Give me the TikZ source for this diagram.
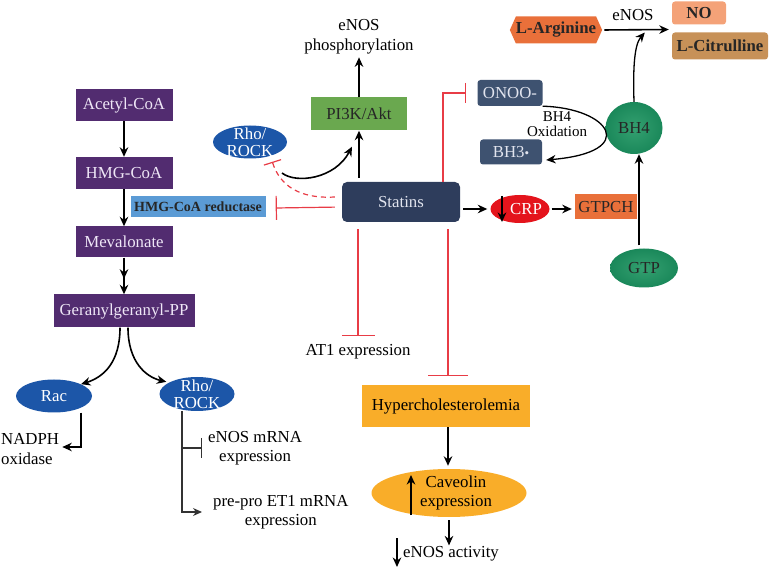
\documentclass[tikz,border=0pt]{standalone}
\usepackage{fontspec}
\setmainfont{Liberation Serif}
\usetikzlibrary{arrows.meta,shapes.geometric,shapes.symbols,calc}
\definecolor{purp}{RGB}{82,44,112}
\definecolor{lav}{RGB}{238,230,246}
\definecolor{rblue}{RGB}{28,86,168}
\definecolor{redblue}{RGB}{91,155,213}
\definecolor{pgreen}{RGB}{106,168,79}
\definecolor{navy}{RGB}{46,61,92}
\definecolor{slate}{RGB}{62,82,112}
\definecolor{lightt}{RGB}{225,228,238}
\definecolor{crpred}{RGB}{228,20,28}
\definecolor{orng}{RGB}{233,112,58}
\definecolor{salmon}{RGB}{244,162,120}
\definecolor{tanc}{RGB}{199,145,88}
\definecolor{ggreen}{RGB}{26,136,90}
\definecolor{ggreenin}{RGB}{52,160,112}
\definecolor{orangey}{RGB}{249,173,41}
\definecolor{inhred}{RGB}{232,60,70}
\definecolor{gline}{RGB}{50,50,50}
\newcommand\fs{\fontsize{16.8}{19.5}\selectfont}
\newcommand\fsr{\fontsize{16.8}{17}\selectfont}
\begin{document}
\begin{tikzpicture}[x=1pt,y=-1pt,
  font=\fs,
  every node/.style={inner sep=0pt},
  pbox/.style={rectangle, fill=purp, text=lav, minimum width=97pt, minimum height=32pt},
  ell/.style={ellipse, inner sep=0pt},
  arr/.style={-{Stealth[length=9.5pt,width=8.5pt]}, line width=1.6pt, draw=black},
  arrtwo/.style={-{Stealth[length=9.5pt,width=8.5pt,sep=6pt]Stealth[length=9.5pt,width=8.5pt]}, line width=1.6pt, draw=black},
  inh/.style={draw=inhred, line width=1.2pt, -{Bar[width=#1,line width=1.2pt]}},
  inh/.default=24pt,
  gbar/.style={draw=gline, line width=1.3pt, -{Bar[width=#1,line width=1.3pt]}},
  garr/.style={draw=gline, line width=1.3pt, -{Stealth[length=9pt,width=8pt]}},
  gell/.style={ellipse, inner sep=0pt, shading=radial, inner color=ggreenin, outer color=ggreen}
]
\useasboundingbox (0,0) rectangle (769,569);

% ---- left column
\node[pbox] (acetyl) at (124,105) {Acetyl-CoA};
\node[pbox] (hmg) at (124,173) {HMG-CoA};
\node[pbox, minimum height=31pt] (meval) at (124,242) {Mevalonate};
\node[pbox, minimum width=141pt, minimum height=33pt] (ger) at (124,311) {Geranylgeranyl-PP};
\node[rectangle, fill=redblue, text=black!85, minimum width=135pt, minimum height=21pt,
      font=\bfseries\fontsize{14}{16}\selectfont] (red) at (198,207) {HMG-CoA reductase};

\draw[arr] (acetyl) -- (hmg);
\draw[arr] (hmg) -- (meval);
\draw[arrtwo] (meval) -- (ger);

\node[ell, fill=rblue, minimum width=76pt, minimum height=33pt] (rac) at (54,396) {};
\node[text=white] (ract) at (rac.center) {Rac};
\node[ell, fill=rblue, minimum width=75pt, minimum height=34pt] (rho2) at (197,394) {};
\node[text=white, align=center, font=\fsr] (rho2t) at (rho2.center) {Rho/\\ROCK};

\draw[arr] ([xshift=-4pt]ger.south) .. controls (120,362) and (104,377) .. (rac.north east);
\draw[arr] ([xshift=4pt]ger.south) .. controls (128,362) and (146,377) .. ([xshift=-4pt]rho2.north west);

\node[anchor=west, align=left] (nadph) at (1,449) {NADPH\\oxidase};
\draw[arr] ([xshift=27pt]rac.south) |- ([xshift=3pt,yshift=2pt]nadph.east);

\node[anchor=west, align=center] (enosm) at (208,448) {eNOS mRNA\\expression};
\node[anchor=west, align=center] (preet) at (213,512) {pre-pro ET1 mRNA\\expression};
\coordinate (rb) at ([xshift=-15pt]rho2.south);
\draw[garr] (rb) |- ([xshift=-11pt]preet.west);
\draw[gbar=20pt] (rb |- enosm.west) -- ([xshift=-6pt]enosm.west);

% ---- middle
\node[align=center] (phos) at (359,37) {eNOS\\phosphorylation};
\node[rectangle, fill=pgreen, text=black!85, minimum width=96pt, minimum height=33pt] (pi3k) at (359,114) {PI3K/Akt};
\node[rectangle, rounded corners=5pt, fill=navy, text=lightt, minimum width=118pt, minimum height=40pt] (statins) at (401,202) {Statins};
\node[ell, fill=rblue, minimum width=74pt, minimum height=33pt] (rho1) at (250,142) {};
\node[text=white, align=center, font=\fsr] (rho1t) at (rho1.center) {Rho/\\ROCK};

\draw[arr] (pi3k.north) -- ([yshift=-3pt]phos.south);
\draw[arr, line width=2pt, shorten <=4pt] (statins.north -| pi3k.south) -- (pi3k.south);
\coordinate (rhoarr) at (282,173);
\draw[arr] (rhoarr) .. controls (296,184) and (335,179) .. ([xshift=-7pt,yshift=-16pt]pi3k.south);
\draw[inh=18pt, dash pattern=on 5pt off 4pt] ([xshift=-7pt,yshift=5pt]statins.west) .. controls (300,199) and (280,186) .. ([xshift=-4pt,yshift=-8pt]rho1.south east);
\coordinate (s1) at (statins.west |- red.east);
\draw[inh=24pt, shorten <=7pt] (s1) -- ([xshift=10pt,yshift=-1pt]red.east);

\node[rectangle, rounded corners=3pt, fill=slate, text=lightt, minimum width=65pt, minimum height=26pt] (onoo) at (510,93) {ONOO-};
\node[rectangle, rounded corners=3pt, fill=slate, text=lightt, minimum width=62pt, minimum height=25pt] (bh3) at (511,152) {BH3{\fontsize{13}{13}\selectfont •}};
\draw[inh=20pt] ([xshift=42pt]statins.north) |- ([xshift=-11pt]onoo.west);

\node (at1) at (358,352) {AT1 expression};
\draw[inh=33pt, shorten <=7pt] ([xshift=-43pt]statins.south) -- ([yshift=8pt]at1.north);

\node[rectangle, fill=orangey, minimum width=168pt, minimum height=42pt] (hyper) at (446,406) {Hypercholesterolemia};
\coordinate (h1) at ([xshift=47pt]statins.south);
\coordinate (h2) at (h1 |- hyper.north);
\draw[inh=40pt, shorten <=7pt, shorten >=9pt] (h1) -- (h2);

\node[ell, fill=orangey, minimum width=155pt, minimum height=48pt] (cav) at (449,493) {};
\node[align=center] (cavt) at (456,493) {Caveolin\\expression};
\draw[arr] ([xshift=2pt]hyper.south) -- ([xshift=2pt,yshift=3pt]hyper.south |- cav.north);
\draw[arr, line width=1.7pt] ([xshift=-38pt,yshift=-22pt]cav.center) -- ([xshift=-38pt,yshift=18pt]cav.center);

\node (eact) at (451,554) {eNOS activity};
\draw[arr] ([yshift=-3pt]cav.south) -- ([yshift=1pt]cav.south |- eact.north);
\draw[arr] ([xshift=-6pt,yshift=16pt]eact.west) -- ([xshift=-6pt,yshift=-13pt]eact.west);

% ---- right
\node[ell, fill=crpred, minimum width=59pt, minimum height=28pt] (crp) at (520,209) {};
\node[text=white] (crpt) at (526,209) {CRP};
\draw[arr, line width=1.7pt] ([xshift=-18pt,yshift=13pt]crp.center) -- ([xshift=-18pt,yshift=-13pt]crp.center);
\draw[arr, shorten <=3pt, shorten >=3pt] (statins.east |- crp.west) -- (crp.west);
\node[rectangle, fill=orng, text=black!85, minimum width=62pt, minimum height=25pt] (gtpch) at (606,207) {GTPCH};
\draw[arr, shorten <=2pt, shorten >=3pt] (crp.east) -- (crp.east -| gtpch.west);

\node[gell, minimum width=68pt, minimum height=39pt, text=black!85] (gtp) at (644,268) {GTP};
\node[gell, minimum width=57pt, minimum height=52pt, text=black!85] (bh4) at (634,128) {BH4};
\draw[arr, shorten <=3pt] ([xshift=-5pt]gtp.north) -- ([xshift=5pt]bh4.south);

\node[align=center, font=\fontsize{15}{15}\selectfont] (oxid) at (557,124) {BH4\\Oxidation};
\draw[arr, line width=1.3pt] (onoo.south east) .. controls (610,108) and (640,152) .. ([xshift=4pt,yshift=-8pt]bh3.east);

\node[signal, signal to=east and west, signal pointer angle=132, fill=orng, text=black!85,
      minimum width=88pt, minimum height=27pt, font=\bfseries\fs] (larg) at (556,30) {L-Arginine};
\node[rectangle, rounded corners=3pt, fill=salmon, text=black!85, minimum width=54pt, minimum height=23pt, font=\bfseries\fs] (no) at (699,13) {NO};
\node[rectangle, rounded corners=3pt, fill=tanc, text=black!85, minimum width=96pt, minimum height=27pt, font=\bfseries\fs] (cit) at (720,46) {L-Citrulline};
\coordinate (prod) at ($(no.south west)!0.5!(cit.north west)+(-3,1)$);
\draw[arr, shorten <=2pt] (larg.east) -- (prod);
\node (enosl) at (633,15) {eNOS};
\draw[arr, line width=1.3pt] (bh4.north) .. controls (633,70) and (634,45) .. ([xshift=-24pt,yshift=-3pt]prod);

\end{tikzpicture}
\end{document}
